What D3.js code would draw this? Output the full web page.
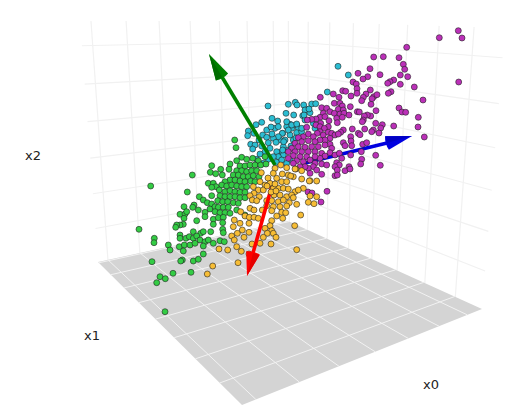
<!DOCTYPE html>
<html><head><meta charset="utf-8">
<script src="https://cdn.jsdelivr.net/npm/d3@7"></script>
<style>html,body{margin:0;padding:0;background:#fff}svg{display:block}text{font-family:"DejaVu Sans",sans-serif;font-size:13px;fill:#222}</style>
</head><body><div id="chart"></div>
<script>
// Values, in view-plane coordinates of the projected 3D scene.
const x0Ticks=[-3,-2,-1,0,1,2,3];
const x1Ticks=[-3,-2,-1,0,1,2,3,4];
const x2Ticks=[-2,-1,0,1,2,3];
const x0Domain=[-3.3,3.55];
const x1Domain=[-3.8,4.07];
const x2Domain=[-2.99,3.63];
const axisLabels=[["x0",431,384],["x1",92,335],["x2",33,155]];
const floorFront=[242,405],floorRight=[482,309],floorBack=[288,221],floorLeft=[98,262];
const topLeft=[80,21],topBack=[287,21],topRight=[505,28];
const blueArrow=[[305,163],[387,143],[412,136]];
const greenArrow=[[275,165],[222,77],[209,54]];
const redArrow=[[273,182],[253,253],[247,276]];

const cyanPoints=[[338,66.3],[348.3,75],[327.3,92],[295.3,102.3],[297,105],[288.3,104.3],[303.7,105],[311.7,104],[315.7,103.7],[308.3,109.3],[305,110],[310,112.7],[286,113.3],[293.7,115],[302.7,115.7],[305,120],[313.3,123.3],[290,124.3],[296.7,125],[286.7,126.7],[291.7,128.3],[298.3,128.3],[282.7,133.3],[290,135],[296.7,132.7],[301.7,131.7],[280,140],[285,140],[283.3,146.7],[281.7,151.7],[283.3,155],[315,128.3],[268,106],[272,118.3],[277.7,121],[261.7,122.3],[256,124.7],[286.7,121.7],[248.3,131],[254,133.3],[247.7,135.7],[262.7,135],[266.7,130],[275,128.3],[278.3,126.7],[282.3,133.3],[288.3,130],[278.3,136.7],[273.3,138.3],[266.7,137.3],[268.3,142.7],[276,142.3],[283.7,141.7],[250.7,144.3],[255,145],[252.7,149],[261.7,146],[265,151.7],[270,148.3],[276.7,151.7],[282.7,150],[278.3,156.7],[288.3,150],[273.3,156.7],[260,154],[256.7,159.3],[263.3,163.3],[268.3,159.3],[276.7,162.3],[281.7,160],[290,159.3],[286.7,163.3],[259,164.3],[291.7,125],[296.7,124],[301.7,128.3],[309,109],[304,115],[293.3,140],[291,146],[296,138],[271,127],[259,140],[272,134]];

const purplePoints=[[458.3,30.7],[462,38],[439.3,37.7],[406.7,47.3],[373.7,57],[383.3,56.7],[399,57.7],[403.3,64.3],[404.7,69.3],[407.7,76.7],[400.3,75],[370,68.7],[358,73.3],[380,74.7],[367.7,76.7],[363,79],[458.7,82],[414.3,87],[393.7,80],[390,81.7],[387.7,83.3],[400.3,84.3],[353,82],[356.3,84],[357,88.7],[357,93.3],[370.3,90],[342.7,90.7],[345.7,91.3],[333.3,94],[320.3,97.3],[339,97.3],[351,96],[366,94],[363.3,97.3],[361.7,100.7],[373.7,96.7],[377,94.7],[372,98.7],[391,91.7],[388.3,93.3],[423,100],[371,104.3],[334.3,103.3],[340,103.3],[342.3,106],[350.3,106.7],[321.7,107.7],[326.7,108.3],[338.3,109.3],[343.3,110],[330,111.7],[334.3,113.3],[340,114],[344,113.3],[349,115],[357.3,111.7],[359.3,112],[376,110.7],[399,108],[402,112],[405.7,112.3],[418.3,117.3],[370.7,116],[367.3,115],[364.3,116],[363.3,120],[362.3,121.7],[323.3,113.3],[320,117.3],[325,116.7],[316,119],[311.7,119.3],[307.3,120],[329,120.7],[336.7,118.3],[342.3,117.3],[337.3,122.7],[320.7,123.3],[316,125],[306.7,127.3],[320,126.7],[328.3,126.7],[324.3,128.3],[375.7,123.3],[382.3,124.7],[380.7,128],[393.7,126],[418,127],[364.7,129],[352.3,129],[343.3,130],[340.7,132.3],[373.3,130],[371.7,131.7],[379,133],[358.3,133.3],[360,134.7],[424.3,137],[320,131.7],[323.3,135],[317.3,133.3],[308.3,134],[313.3,136.7],[303.3,136.7],[298.3,137.7],[328.3,132.3],[331.7,133.3],[335,135],[338.3,134],[330,138.3],[325,140],[320,140],[315,141.7],[308.3,140.7],[301.7,141.7],[295,143.3],[350.7,136.7],[351,141],[343.3,142.7],[345,145.7],[351.7,145.7],[330,144.3],[331.7,148.3],[325,145],[318.3,146.7],[311.7,146.7],[305,147.3],[298.3,146.7],[291.7,148.3],[288.3,151.7],[295,151.7],[301.7,151.7],[308.3,151.7],[315,151.7],[321.7,153.3],[330,152.7],[335,155],[339.3,153.3],[362.7,144.3],[366.7,142.7],[361.3,151.7],[375.7,155.3],[350.7,155],[361.7,159.3],[360.7,164],[380.3,165.3],[325,156],[320,158.3],[315,156.7],[306.7,156.7],[300,156.7],[293.3,155.7],[288.3,158.3],[296.7,160.7],[303.3,161.7],[310,160],[315,163.3],[321.7,164],[326.7,165],[336.7,162.7],[341.7,158.3],[339.3,165],[335,166.7],[349,166.7],[345,170.7],[350,169],[337.3,170],[335,175.7],[337.3,175],[321.7,174.3],[313.3,166.7],[308.3,168.3],[305,166.7],[300,166.7],[293.3,163.3],[316.7,170],[310,173.3],[327,191.3],[321,202],[308,192],[312,193]];

const greenPoints=[[234.7,140],[236,147.7],[150.7,186],[192.3,175],[211.7,165.7],[210.3,172.3],[215.7,173.7],[220.7,169.3],[222.3,175],[230,164],[229,169.3],[241.7,157.3],[236.7,160.7],[246.7,159.3],[252.7,158.3],[258.3,160.7],[265,156.7],[240,166],[245,166],[250,165],[255,165],[260.7,165],[266,164],[236.7,170.7],[241.7,170.7],[246.7,171.7],[251.7,170.7],[256.7,170.7],[233.3,175],[238.3,175],[243.3,176.7],[248.3,176.7],[253.3,175.7],[259,176.7],[230,180],[235,180],[240,181],[245,181.7],[250.7,181],[255,181.7],[225,181.7],[221.7,185],[226.7,186],[231.7,185],[236.7,186],[241.7,186.7],[246.7,186.7],[208.3,183.3],[213.3,183.3],[216,186.7],[211.7,187.3],[187.3,192],[199.3,196.7],[211.7,195.7],[219.3,190],[225,191.7],[230,190.7],[235,191.7],[240,192.3],[245,192.3],[220,195.7],[225,196.7],[230,196.7],[235,196.7],[240,197.7],[245,197.7],[217.7,200.7],[222.7,201.7],[227.7,201.7],[233.3,202.7],[238.3,203.3],[203.3,200],[207.3,202.7],[211.7,204],[194,205],[192.7,207.3],[198.3,210],[184,206.7],[205,212.3],[205,216.7],[210,209],[215,206.7],[218.3,207.3],[223.3,207.3],[228.3,207.3],[215,211.7],[220,212.7],[225,212.7],[230,213.3],[236.7,210],[245,215],[180,214.3],[185,214],[186.7,211.7],[184,218.3],[196.7,220.7],[213.3,219.3],[218.3,217.7],[223.3,217.3],[222.7,222.7],[213.3,224.3],[183.3,224.3],[180,225],[176.7,225],[175.7,227.3],[139,229.3],[193.3,231.7],[200.7,233.3],[203.3,231.7],[210.7,231.7],[222.7,229.3],[223.3,232.7],[180,235],[180,238.3],[186,238.3],[189.3,236.7],[193.3,238.3],[196.7,236],[200,240],[205,241.7],[208.3,240],[213.3,243.3],[220,240.7],[224.3,241.7],[154.3,238.3],[154,242.7],[168.3,245],[170,250],[179.3,246.7],[184.3,245],[183.3,251],[190,245],[195,243.3],[203.3,246],[203.3,254],[182.3,260],[180.7,261],[193.3,261],[198.3,259.3],[152,261.7],[173,273.3],[191,272.3],[160,276.7],[165.3,278.7],[156.7,282.7],[165,311.7]];

const orangePoints=[[261.3,172.7],[275,168.3],[280.7,165],[286.7,167.7],[296,169],[301.7,170.7],[282.3,174],[288.3,175],[293.3,176.7],[301.7,179],[310,180.7],[316.7,181],[276.7,178.3],[281.7,181.7],[286.7,181.7],[265,185],[260,181.7],[253.3,186.7],[258.3,190],[263.3,190],[278.3,188.3],[283.3,188.3],[288.3,189],[295,191.7],[303.3,188.3],[254,193.3],[250,195.7],[259.3,196.7],[274,195],[280,195],[286.7,196.7],[291.7,195],[298.3,190],[310,196],[316.7,196.7],[252.3,200],[256.7,200.7],[266.7,200.7],[271.7,200.7],[278.3,201.7],[283.3,200],[289.3,202.7],[308.3,202.3],[314,203.7],[266.7,205.7],[273.3,206.7],[280,206.7],[286.7,206],[250,208.3],[254,210],[240.7,211.7],[262.3,210],[271.7,210.7],[281.7,212.3],[285.7,212.7],[245,216],[249.3,217.3],[254,217.3],[258.3,218.3],[276.7,216],[282.7,218.3],[300.7,215],[234.3,220],[240,223.3],[249,223.3],[271.7,220.7],[233.3,226.7],[270,225.7],[294.7,225.7],[242.3,230],[249,232.3],[265,228.3],[271.7,230.7],[267.3,233.3],[273.3,233.3],[237.3,233.3],[231.7,236],[244,237.3],[263.3,237.3],[276,237.3],[234.3,240],[252,244],[260,243.3],[271,244],[236.7,246.7],[219,249],[227.7,250],[241.3,251.3],[296.7,249.7],[249,254],[238,262.7],[212.7,266],[207.3,274],[295,169],[290.7,176],[309.3,181],[293.3,197.7],[296.7,204.3]];
// orange points that lie in front of the red arrow's shaft
const orangeFrontPoints=[[273.3,173.3],[270,183.3],[273.3,188.3],[268,178],[275,184],[271,192],[267,186],[276,191]];

const W=508,H=411;
const sx=d3.scaleLinear().domain([0,508]).range([0,W]);
const sy=d3.scaleLinear().domain([0,411]).range([0,H]);
const toPx=p=>[sx(p[0]),sy(p[1])];
const svg=d3.select("#chart").append("svg").attr("width",W).attr("height",H);

// projective map from the unit square to a quadrilateral
function quadMap(p0,p1,p2,p3){
  const [x0,y0]=toPx(p0),[x1,y1]=toPx(p1),[x2,y2]=toPx(p2),[x3,y3]=toPx(p3);
  const ax=x0-x1+x2-x3,ay=y0-y1+y2-y3,dx1=x1-x2,dy1=y1-y2,dx2=x3-x2,dy2=y3-y2;
  const den=dx1*dy2-dx2*dy1;
  const g=(ax*dy2-dx2*ay)/den,h=(dx1*ay-ax*dy1)/den;
  const a=x1-x0+g*x1,b=x3-x0+h*x3,d=y1-y0+g*y1,e=y3-y0+h*y3;
  return (u,v)=>{const w=g*u+h*v+1;return [(a*u+b*v+x0)/w,(d*u+e*v+y0)/w];};
}
const su=d3.scaleLinear().domain(x0Domain).range([0,1]);
const sv=d3.scaleLinear().domain(x1Domain).range([0,1]);
const sz=d3.scaleLinear().domain(x2Domain).range([0,1]);
const floorMap=quadMap(floorFront,floorRight,floorBack,floorLeft);
const leftMap=quadMap(floorLeft,floorBack,topBack,topLeft);
const rightMap=quadMap(floorRight,floorBack,topBack,topRight);
const line=d3.line();

function gridLines(g,map,aTicks,aScale,bTicks,bScale,stroke,width){
  const segs=[...aTicks.map(t=>[map(aScale(t),0),map(aScale(t),1)]),...bTicks.map(t=>[map(0,bScale(t)),map(1,bScale(t))])];
  g.selectAll("path").data(segs).join("path").attr("d",line).attr("fill","none").attr("stroke",stroke).attr("stroke-width",width);
}
gridLines(svg.append("g"),leftMap,x0Ticks,su,x2Ticks,sz,"#f1f1f1",1.2);
gridLines(svg.append("g"),rightMap,x1Ticks,sv,x2Ticks,sz,"#f1f1f1",1.2);
svg.append("path").attr("d",line([floorFront,floorRight,floorBack,floorLeft].map(toPx))+"Z").attr("fill","#d4d4d4");
gridLines(svg.append("g"),floorMap,x0Ticks,su,x1Ticks,sv,"#f2f2f2",1);

svg.append("g").attr("opacity",0.999).selectAll("text").data(axisLabels).join("text")
  .attr("x",d=>sx(d[1])).attr("y",d=>sy(d[2])).attr("text-anchor","middle").attr("dominant-baseline","central").text(d=>d[0]);

function arrow(spec,main,dark,halfBase,shaft){
  const [tail,neck,tip]=spec.map(toPx);
  const g=svg.append("g");
  g.append("path").attr("d",line([tail,neck])).attr("stroke",main).attr("stroke-width",shaft).attr("fill","none");
  const dx=tip[0]-neck[0],dy=tip[1]-neck[1],len=Math.hypot(dx,dy);
  const nx=-dy/len*halfBase,ny=dx/len*halfBase;
  const a=[neck[0]+nx,neck[1]+ny],b=[neck[0]-nx,neck[1]-ny];
  const back=[neck[0]-dx/len*2.5,neck[1]-dy/len*2.5];
  g.append("path").attr("d",`M${a}Q${back} ${b}L${tip}Z`).attr("fill",main);
  g.append("path").attr("d",line([neck,tip,b])+"Z").attr("fill",dark);
}
function dots(pts,fill){
  svg.append("g").selectAll("circle").data(pts).join("circle")
    .attr("cx",d=>sx(d[0])).attr("cy",d=>sy(d[1])).attr("r",3)
    .attr("fill",fill).attr("stroke","#222").attr("stroke-width",0.6);
}
arrow(blueArrow,"#0000e0","#0000c4",7,3.6);
dots(cyanPoints,"#2bbdd2");
arrow(greenArrow,"#008000","#006c00",7,3.6);
dots(purplePoints,"#bb30b8");
dots(greenPoints,"#33cc44");
dots(orangePoints,"#f7bd35");
arrow(redArrow,"#ff0000","#e60000",7,3.6);
dots(orangeFrontPoints,"#f7bd35");
</script></body></html>
